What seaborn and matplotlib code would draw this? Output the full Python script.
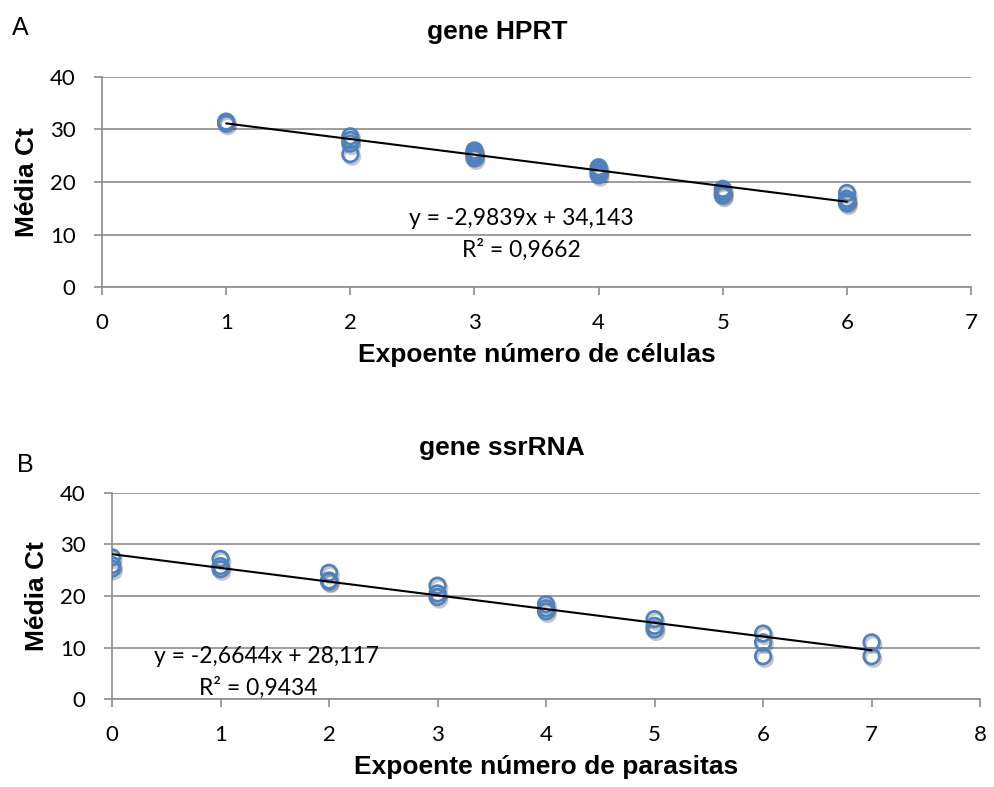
import matplotlib
matplotlib.use("Agg")
import matplotlib.pyplot as plt
import matplotlib.patheffects as pe
import numpy as np
import pandas as pd
import seaborn as sns

# Panel A: HPRT gene, Ct by cell-number exponent
hprt_x = [1, 1, 2, 2, 2, 2, 3, 3, 3, 3, 4, 4, 4, 4, 5, 5, 5, 5, 6, 6, 6, 6]
hprt_ct = [31.5, 31.1, 28.7, 28.0, 27.3, 25.3, 26.0, 25.5, 25.0, 24.5,
           22.8, 22.3, 21.8, 21.3, 18.7, 18.2, 17.7, 17.4, 17.9, 16.8, 16.3, 15.9]
hprt_slope, hprt_intercept, hprt_r2 = -2.9839, 34.143, 0.9662

# Panel B: ssrRNA gene, Ct by parasite-number exponent
ssr_x = [0, 0, 0, 1, 1, 1, 2, 2, 2, 3, 3, 3, 4, 4, 4, 5, 5, 5, 6, 6, 6, 7, 7]
ssr_ct = [27.5, 26.0, 25.3, 27.2, 25.8, 25.2, 24.5, 23.0, 22.8, 22.0, 20.5, 19.8,
          18.4, 17.6, 17.0, 15.5, 14.2, 13.5, 12.7, 11.0, 8.3, 11.0, 8.3]
ssr_slope, ssr_intercept, ssr_r2 = -2.6644, 28.117, 0.9434

sns.set_theme(style="white")
plt.rcParams["font.family"] = ["Liberation Sans", "DejaVu Sans"]
plt.rcParams.update({"text.color": "black", "axes.labelcolor": "black",
                     "xtick.labelcolor": "black", "ytick.labelcolor": "black"})

BLUE = "#4F81BD"
GRID = "#8C8C8C"
TICK_FONT = ["Lato", "DejaVu Sans"]
NUM_SIZE = 16
EQ_SIZE = 16.5
LABEL_SIZE = 19


def fmt(v, nd):
    return f"{v:.{nd}f}".replace(".", ",")


def draw_panel(ax, xs, ys, slope, intercept, r2, xmax, title, title_x, xlabel, eq_xy, r2_xy):
    df = pd.DataFrame({"x": xs, "ct": ys})
    sns.scatterplot(data=df, x="x", y="ct", ax=ax, marker="o", s=125,
                    fc="none", ec=BLUE, linewidth=2.0, zorder=3,
                    path_effects=[pe.SimpleLineShadow(offset=(1.2, -1.8),
                                                      shadow_color="black", alpha=0.22),
                                  pe.Normal()])
    xr = np.array([min(xs), max(xs)], dtype=float)
    trend = pd.DataFrame({"x": xr, "ct": slope * xr + intercept})
    sns.lineplot(data=trend, x="x", y="ct", ax=ax, color="black", linewidth=1.5, zorder=4)

    ax.set_xlim(0, xmax)
    ax.set_ylim(0, 40)
    ax.set_xticks(range(0, xmax + 1))
    ax.set_yticks(range(0, 41, 10))
    ax.yaxis.grid(True, color=GRID, linewidth=1.2)
    ax.xaxis.grid(False)
    for side in ("top", "right"):
        ax.spines[side].set_visible(False)
    for side in ("left", "bottom"):
        ax.spines[side].set_color(GRID)
        ax.spines[side].set_linewidth(1.2)
    ax.tick_params(axis="x", direction="out", length=6, width=1.2, color=GRID,
                   bottom=True, labelsize=NUM_SIZE, pad=13)
    ax.tick_params(axis="y", direction="out", length=6, width=1.2, color=GRID,
                   left=True, labelsize=NUM_SIZE, pad=13)
    for lab in ax.get_xticklabels() + ax.get_yticklabels():
        lab.set_family(TICK_FONT)
    # the chart title is centred on the page, not on the plot area
    ax.set_title(title, fontsize=LABEL_SIZE, fontweight="bold", pad=27, x=title_x)
    ax.set_xlabel(xlabel, fontsize=LABEL_SIZE, fontweight="bold", labelpad=7)
    ax.set_ylabel("Média Ct", fontsize=LABEL_SIZE, fontweight="bold", labelpad=8)

    sign = "-" if slope < 0 else ""
    ax.text(*eq_xy, f"y = {sign}{fmt(abs(slope), 4)}x + {fmt(intercept, 3)}",
            ha="center", va="center", fontsize=EQ_SIZE, family=TICK_FONT)
    ax.text(*r2_xy, f"R² = {fmt(r2, 4)}", ha="center", va="center",
            fontsize=EQ_SIZE, family=TICK_FONT)


fig = plt.figure(figsize=(9.94, 7.87), dpi=100)
ax_a = fig.add_axes([0.1026, 0.6353, 0.8744, 0.2669])
ax_b = fig.add_axes([0.1127, 0.1118, 0.8733, 0.2618])

draw_panel(ax_a, hprt_x, hprt_ct, hprt_slope, hprt_intercept, hprt_r2, 7,
           "gene HPRT", 0.4545, "Expoente número de células", (3.38, 13.1), (3.38, 7.0))
draw_panel(ax_b, ssr_x, ssr_ct, ssr_slope, ssr_intercept, ssr_r2, 8,
           "gene ssrRNA", 0.4495, "Expoente número de parasitas", (1.42, 8.2), (1.35, 2.1))

fig.text(0.012, 0.965, "A", fontsize=18, ha="left", va="center")
fig.text(0.017, 0.409, "B", fontsize=18, ha="left", va="center")

fig.savefig("out.png", dpi=100)
